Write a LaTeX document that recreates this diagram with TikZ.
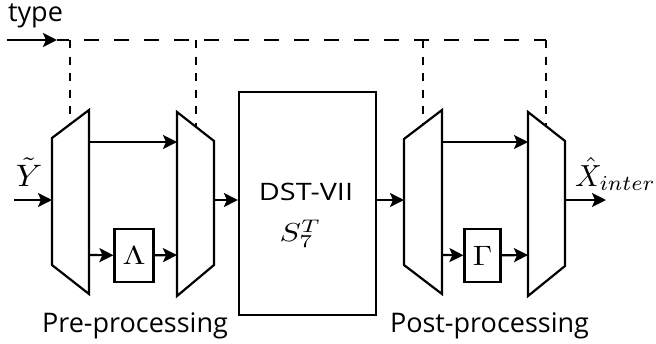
\documentclass[tikz,border=0pt]{standalone}
\usepackage{graphicx}
\usepackage{fontspec}
\setmainfont{Open Sans}
\usetikzlibrary{arrows.meta,calc}
\newcommand{\mymath}[3]{\scalebox{#1}[#2]{$#3$}}
\begin{document}
\begin{tikzpicture}[x=1pt,y=-1pt,line width=2.2pt,line join=miter,
  arr/.style={-{Stealth[length=14pt,width=14pt,inset=3pt]}},
  ctrl/.style={dash pattern=on 8pt off 8.5pt,line width=2.2pt},
  bus/.style={dash pattern=on 15pt off 15pt,dash phase=3pt,line width=2.4pt},
  blk/.style={draw,line width=2.2pt,minimum width=37pt,minimum height=53pt,inner sep=0pt},
  lbl/.style={font=\fontsize{27}{30}\selectfont,inner sep=0pt},
  mth/.style={inner sep=0pt}]
\useasboundingbox (0,0) rectangle (656,343);

% pre-processing splitter and merger
\draw (52,138) -- (89,110) -- (89,294) -- (52,265) -- cycle;
\draw (177,112) -- (214,141) -- (214,265) -- (177,296) -- cycle;
% post-processing splitter and merger
\draw (404,139) -- (442,110) -- (442,294) -- (404,265) -- cycle;
\draw (528,112) -- (565,141) -- (565,266) -- (528,296) -- cycle;

\coordinate (m1in) at (52,200);
\coordinate (m1t) at (89,142);
\coordinate (m1b) at (89,255);
\coordinate (m2t) at (177,142);
\coordinate (m2b) at (177,255);
\coordinate (m2out) at (214,200);
\coordinate (m3in) at (404,200);
\coordinate (m3t) at (442,142);
\coordinate (m3b) at (442,255);
\coordinate (m4t) at (528,142);
\coordinate (m4b) at (528,255);
\coordinate (m4out) at (565,200);

\node[blk,minimum width=39pt] (lam) at (134,255.5) {\mymath{3.3}{2.6}{\Lambda}};
\node[blk,minimum width=36pt] (gam) at (482.5,255.5) {\mymath{3.1}{2.8}{\Gamma}};
\node[draw,line width=2.2pt,minimum width=137pt,minimum height=223pt,inner sep=0pt] (dst) at (307.5,203.5) {};
\node[font=\fontsize{24}{28}\selectfont,inner sep=0pt,anchor=base] (dsttxt) at (306,200) {\scalebox{1.2}[1]{DST-VII}};
\node[mth,anchor=base] (s7) at (300.5,241.5) {\mymath{3.2}{2.6}{S_7^T}};

% input / output
\coordinate (yin) at (14,200);
\coordinate (xout) at (606,200);
\node[mth,anchor=base] (ylbl) at (29,186.5) {\mymath{3.3}{3.1}{\tilde{Y}}};
\node[mth,anchor=base west] (xlbl) at (574,186) {\mymath{2.95}{3.05}{\hat{X}_{inter}}};
\draw[arr] (yin) -- (m1in);
\draw[arr] (m4out) -- (xout);

% data paths
\draw[arr] (m1t) -- (m2t);
\draw[arr] (m1b) -- (lam);
\draw[arr] (lam) -- (m2b);
\draw[arr] (m2out) -- (dst.west |- m2out);
\draw[arr] (dst.east |- m3in) -- (m3in);
\draw[arr] (m3t) -- (m4t);
\draw[arr] (m3b) -- (gam);
\draw[arr] (gam) -- (m4b);

% type control
\node[font=\fontsize{27}{30}\selectfont,inner sep=0pt,anchor=base west] (type) at (7,21.5) {type};
\coordinate (tin) at (7,40);
\coordinate (tj) at (57,40);
\coordinate (c1) at (70,40);
\coordinate (c2) at (196,40);
\coordinate (c3) at (423,40);
\coordinate (c4) at (546,40);
\coordinate (e1) at (70,125);
\coordinate (e2) at (196,126);
\coordinate (e3) at (423,124);
\coordinate (e4) at (546,126);
\draw[arr,line width=2.2pt] (tin) -- (tj);
\draw[bus] (tj) -- (c4);
\draw[ctrl] (c1) -- (e1);
\draw[ctrl] (c2) -- (e2);
\draw[ctrl] (c3) -- (e3);
\draw[ctrl] (c4) -- (e4);

\node[lbl,anchor=base] (pre) at (135,332) {Pre-processing};
\node[lbl,anchor=base] (post) at (489.5,332) {Post-processing};
\end{tikzpicture}
\end{document}
